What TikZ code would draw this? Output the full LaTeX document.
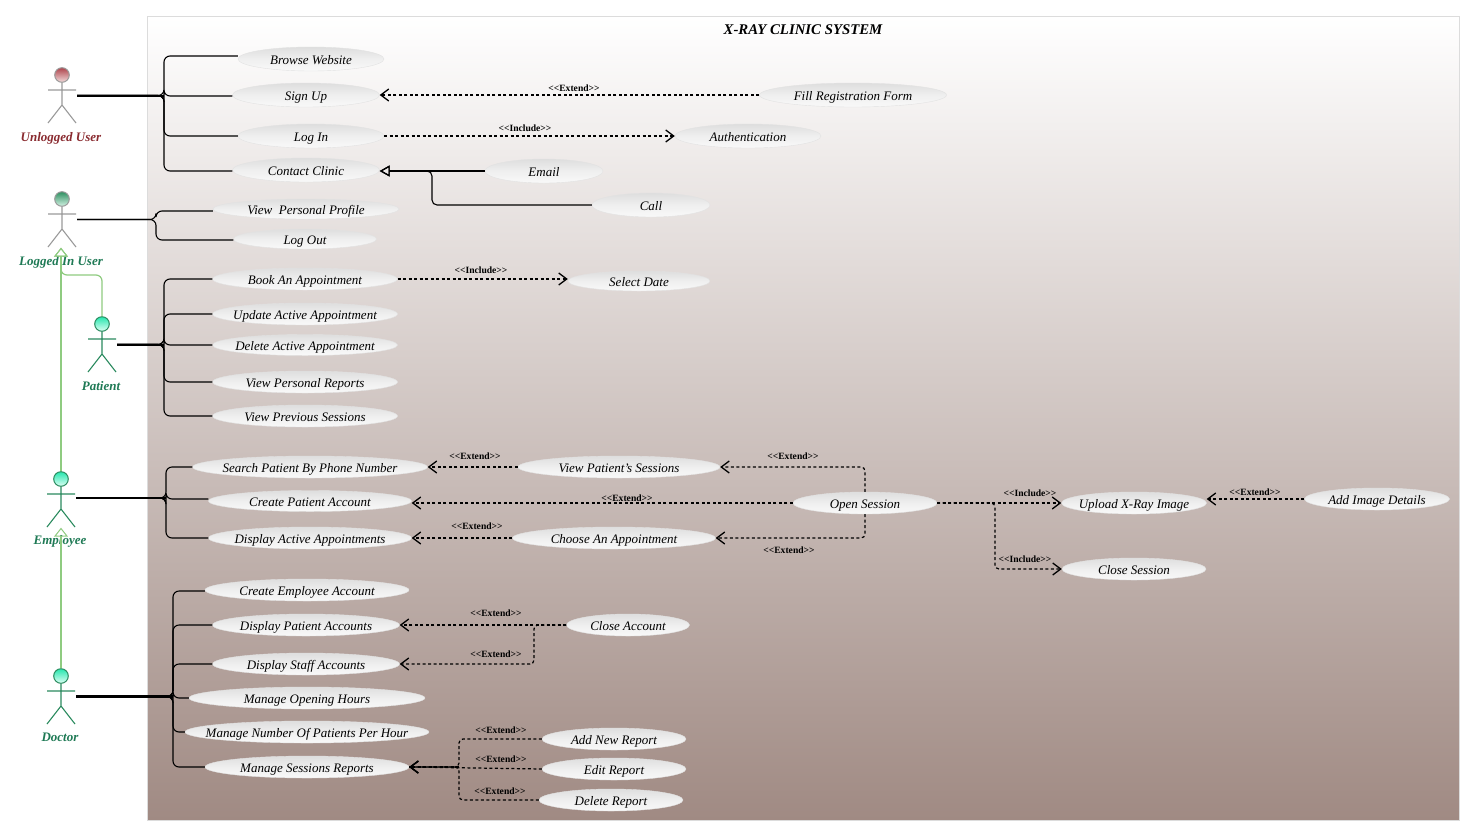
\documentclass[tikz,border=0pt]{standalone}
\usepackage{fontspec}
\setmainfont{Liberation Serif}
\usetikzlibrary{arrows.meta,shapes.geometric,calc}
\definecolor{frameC}{HTML}{DCDCDC}
\definecolor{bgBottom}{HTML}{A08A83}
\definecolor{actGrey}{HTML}{9A9A9A}
\definecolor{actGreen}{HTML}{2A8A5E}
\definecolor{lblRed}{HTML}{8A2B30}
\definecolor{lblGreen}{HTML}{1F7A55}
\definecolor{genC}{HTML}{8FCB80}
\definecolor{ucTop}{HTML}{DEDEDE}
\definecolor{ucMid}{HTML}{EFEFEF}
\definecolor{ucBot}{HTML}{F9F9F9}
\definecolor{ucEdge}{HTML}{E2E2E2}
\definecolor{hdRedT}{HTML}{AE444C}
\definecolor{hdRedB}{HTML}{F2DCDC}
\definecolor{hdGrnT}{HTML}{2E8F60}
\definecolor{hdGrnB}{HTML}{D4F2E4}
\definecolor{hdCyaT}{HTML}{26E6AE}
\definecolor{hdCyaB}{HTML}{DEFFF4}
\tikzset{
  x=1pt,y=-1pt,
  usecase/.style={ellipse,inner xsep=-60pt,inner ysep=-8pt,top color=ucTop,bottom color=ucBot,middle color=ucMid,draw=ucEdge,line width=.4pt,font=\fontsize{13}{14}\selectfont\itshape,text=black,text height=11pt,text depth=0pt},
  actorbox/.style={rectangle,inner sep=0pt,minimum width=30pt,minimum height=56pt},
  assoc/.style={draw=black,line width=1.1pt,rounded corners=6pt},
  feed/.style={draw=black,line width=#1},
  depline/.style={draw=black,line width=1.2pt,dash pattern=on 3pt off 2.5pt,rounded corners=4pt,-{Straight Barb[length=8pt,width=12pt,line width=1.3pt]}},
  depshare/.style={draw=black,line width=2pt,dash pattern=on 3pt off 2.5pt},
  solidgen/.style={draw=black,line width=1.1pt,rounded corners=5pt,-{Triangle[open,length=10pt,width=11pt,line width=1.2pt]}},
  actorgen/.style={draw=genC,line width=1.2pt,rounded corners=6pt,-{Triangle[open,length=9pt,width=14pt,line width=1pt]}},
  deplabel/.style={font=\fontsize{9.6}{11}\selectfont\bfseries,inner sep=0pt,text=black},
  actorlabel/.style={font=\fontsize{13}{14}\selectfont\bfseries\itshape,inner sep=0pt,text=#1},
}
\newcommand{\stereo}[1]{{<}{<}#1{>}{>}}
% name, x, y of head centre, line colour, head top colour, head bottom colour
\newcommand{\stickman}[6]{%
  \node[actorbox] (#1) at (#2,#3+20.5) {};
  \draw[draw=#4,line width=1.1pt] (#2,#3+7.5) -- (#2,#3+30)
     (#2-14,#3+15) -- (#2+14,#3+15)
     (#2-14,#3+48) -- (#2,#3+30) -- (#2+14,#3+48);
  \draw[draw=#4,line width=1pt,top color=#5,bottom color=#6] (#2,#3) circle (7.3pt);
}
\newcommand{\uc}[6]{\node[usecase,minimum width=#4pt,minimum height=#5pt] (#1) at (#2,#3) {#6};}
\begin{document}
\begin{tikzpicture}
\useasboundingbox (0,0) rectangle (1462,820);
\fill[white] (0,0) rectangle (1462,820);
\node[rectangle,inner sep=0pt,minimum width=1312pt,minimum height=804pt,top color=white,bottom color=bgBottom,draw=frameC,line width=.8pt] (frame) at (803,418) {};
\node[font=\fontsize{14.8}{16}\selectfont\bfseries\itshape,inner sep=0pt] (title) at (803,30) {X-RAY CLINIC SYSTEM};

% actors
\stickman{aU}{62}{75}{actGrey}{hdRedT}{hdRedB}
\stickman{aL}{62}{199}{actGrey}{hdGrnT}{hdGrnB}
\stickman{aP}{102}{324}{actGreen}{hdCyaT}{hdCyaB}
\stickman{aE}{61}{479}{actGreen}{hdCyaT}{hdCyaB}
\stickman{aD}{61}{676}{actGreen}{hdCyaT}{hdCyaB}
\node[actorlabel=lblRed] (lU) at (61,138) {Unlogged User};
\node[actorlabel=lblGreen] (lL) at (61,262) {Logged In User};
\node[actorlabel=lblGreen] (lP) at (101,386) {Patient};
\node[actorlabel=lblGreen] (lE) at (60,541) {Employee};
\node[actorlabel=lblGreen] (lD) at (60,737) {Doctor};

% use cases
\uc{browse}{311}{59}{146}{24}{Browse Website}
\uc{signup}{306}{95}{147}{24}{Sign Up}
\uc{login}{311}{136}{146}{24}{Log In}
\uc{contact}{306}{170}{147}{24}{Contact Clinic}
\uc{fill}{853}{95}{187}{24}{Fill Registration Form}
\uc{auth}{748}{136}{146}{24}{Authentication}
\uc{email}{544}{171}{118}{24}{Email}
\uc{call}{651}{205}{118}{24}{Call}
\uc{profile}{306}{209}{186}{20}{View\ \ Personal Profile}
\uc{logout}{305}{239}{143}{20}{Log Out}
\uc{book}{305}{279}{185}{22}{Book An Appointment}
\uc{update}{305}{314}{185}{22}{Update Active Appointment}
\uc{delete}{305}{345}{185}{21}{Delete Active Appointment}
\uc{vreports}{305}{382}{185}{22}{View Personal Reports}
\uc{vprev}{305}{416}{185}{22}{View Previous Sessions}
\uc{seldate}{639}{281}{142}{20}{Select Date}
\uc{search}{310}{467}{235}{22}{Search Patient By Phone Number}
\uc{cpatient}{310}{501}{203}{21}{Create Patient Account}
\uc{dactive}{310}{538}{203}{22}{Display Active Appointments}
\uc{vsess}{619}{467}{202}{22}{View Patient's Sessions}
\uc{choose}{614}{538}{203}{22}{Choose An Appointment}
\uc{open}{865}{503}{144}{22}{Open Session}
\uc{upload}{1134}{503}{145}{22}{Upload X-Ray Image}
\uc{close}{1134}{569}{144}{22}{Close Session}
\uc{addimg}{1377}{499}{145}{22}{Add Image Details}
\uc{cemp}{307}{590}{204}{22}{Create Employee Account}
\uc{dpat}{306}{625}{187}{22}{Display Patient Accounts}
\uc{dstaff}{306}{664}{187}{22}{Display Staff Accounts}
\uc{mopen}{307}{698}{236}{22}{Manage Opening Hours}
\uc{mnum}{307}{732}{244}{22}{Manage Number Of Patients Per Hour}
\uc{msess}{307}{767}{204}{22}{Manage Sessions Reports}
\uc{closeacc}{628}{625}{123}{22}{Close Account}
\uc{addrep}{614}{739}{144}{22}{Add New Report}
\uc{editrep}{614}{769}{144}{22}{Edit Report}
\uc{delrep}{611}{800}{144}{22}{Delete Report}

% routing points
\coordinate (bU) at (164,95.5);
\coordinate (bL) at (156,219.5);
\coordinate (bP) at (164,344.5);
\coordinate (bE) at (166,498);
\coordinate (bD) at (173,696.5);
\coordinate (gCall) at (432,205);
\coordinate (gOpen) at (995,503);
\coordinate (gClose) at (534,625);
\coordinate (gRepA) at (459,739);
\coordinate (gRepM) at (459,767);
\coordinate (gRepD) at (459,800);
\coordinate (gPL) at (61,275);

% associations (yshift is in page direction: positive is upward)
\foreach \t/\dy in {browse/3,signup/-1,login/0,contact/-1}
  \draw[assoc] (aU.east) -- (bU) |- ([yshift=\dy]\t.west);
\foreach \t/\dy in {profile/-2,logout/-1}
  \draw[assoc] (aL.east) -- (bL) |- ([yshift=\dy]\t.west);
\foreach \t/\dy in {book/0,update/0,delete/0,vreports/0,vprev/0}
  \draw[assoc] (aP.east) -- (bP) |- ([yshift=\dy]\t.west);
\foreach \t/\dy in {search/0,cpatient/2,dactive/0}
  \draw[assoc] ([yshift=1.5]aE.east) -- (bE) |- ([yshift=\dy]\t.west);
\foreach \t/\dy in {cemp/-1,dpat/0,dstaff/0,mopen/0,mnum/0,msess/0}
  \draw[assoc] (aD.east) -- (bD) |- ([yshift=\dy]\t.west);
\draw[feed=2pt] (aU.east) -- (bU);
\draw[feed=2pt] (aP.east) -- (bP);
\draw[feed=2pt] ([yshift=1.5]aE.east) -- (bE);
\draw[feed=3pt] (aD.east) -- (bD);

% generalisations between actors
\draw[actorgen] (aP.north) |- (gPL) -- (aE.north |- aL.south);
\draw[actorgen] (aE.north) -- (aE.north |- aL.south);
\draw[actorgen] (aD.north) -- (aE.south);

% contact clinic specialisations
\draw[solidgen] (email.west) -- (contact.east |- email.west);
\draw[solidgen] (call.west) -- (gCall) |- (contact.east |- email.west);

% dependencies
\draw[depline] (fill.west) -- (signup.east);
\node[deplabel] (t1) at (574,88) {\stereo{Extend}};
\draw[depline] (login.east) -- (auth.west);
\node[deplabel] (t2) at (525,128) {\stereo{Include}};
\draw[depline] (book.east) -- (seldate.west |- book.east);
\node[deplabel] (t3) at (481,270) {\stereo{Include}};
\draw[depline] (vsess.west) -- (search.east);
\node[deplabel] (t4) at (475,456) {\stereo{Extend}};
\draw[depline] (open.north) |- (vsess.east);
\node[deplabel] (t5) at (793,456) {\stereo{Extend}};
\draw[depline] (open.west) -- (cpatient.east |- open.west);
\node[deplabel] (t6) at (627,498) {\stereo{Extend}};
\draw[depline] (choose.west) -- (dactive.east);
\node[deplabel] (t7) at (477,526) {\stereo{Extend}};
\draw[depline] (open.south) |- (choose.east);
\node[deplabel] (t8) at (789,550) {\stereo{Extend}};
\draw[depline] (open.east) -- (upload.west);
\draw[depshare] (open.east) -- (gOpen);
\node[deplabel] (t9) at (1030,493) {\stereo{Include}};
\draw[depline] (open.east) -- (gOpen) |- (close.west);
\node[deplabel] (t10) at (1025,559) {\stereo{Include}};
\draw[depline] (addimg.west) -- (upload.east |- addimg.west);
\node[deplabel] (t11) at (1255,492) {\stereo{Extend}};
\draw[depline] (closeacc.west) -- (dpat.east);
\draw[depshare] (closeacc.west) -- (gClose);
\node[deplabel] (t12) at (496,613) {\stereo{Extend}};
\draw[depline] (closeacc.west) -- (gClose) |- (dstaff.east);
\node[deplabel] (t13) at (496,654) {\stereo{Extend}};
\draw[depline] (addrep.west) -- (gRepA) |- (msess.east);
\node[deplabel] (t14) at (501,730) {\stereo{Extend}};
\draw[depline] (editrep.west) -- (msess.east);
\draw[depshare] (gRepM) -- (msess.east);
\node[deplabel] (t15) at (501,759) {\stereo{Extend}};
\draw[depline] (delrep.west) -- (gRepD) |- (msess.east);
\node[deplabel] (t16) at (500,791) {\stereo{Extend}};
\end{tikzpicture}
\end{document}
